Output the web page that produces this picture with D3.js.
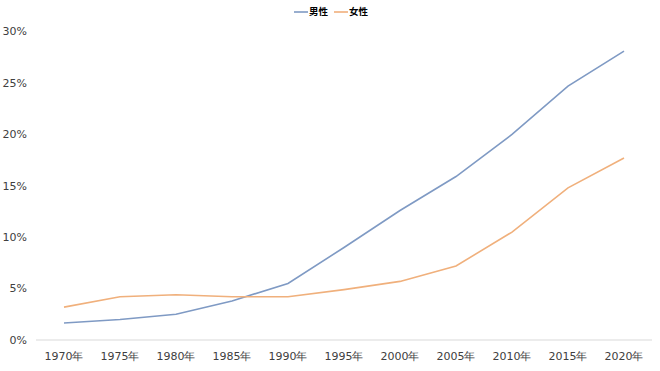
<!DOCTYPE html>
<html><head><meta charset="utf-8">
<script src="https://cdn.jsdelivr.net/npm/d3@7"></script>
<style>body{margin:0;background:#fff}svg{display:block}</style>
</head><body><svg id="c" width="660" height="371"></svg>
<script>
const years = ["1970年","1975年","1980年","1985年","1990年","1995年","2000年","2005年","2010年","2015年","2020年"];
const male = [1.65,2.0,2.5,3.8,5.5,9.0,12.6,15.9,20.0,24.7,28.1];
const female = [3.2,4.2,4.4,4.2,4.2,4.9,5.7,7.2,10.5,14.8,17.7];
const yTicks = [0,5,10,15,20,25,30];
const seriesNames = ["男性","女性"];
const colors = ["#7f9ac4","#f0b07c"];

const svg = d3.select("#c");
const font = "'DejaVu Sans', Verdana, sans-serif";
const x = d3.scaleBand().domain(years).range([36,652]);
const y = d3.scaleLinear().domain([0,30]).range([340,31.6]);

// baseline
svg.append("line").attr("x1",36).attr("x2",652).attr("y1",y(0)).attr("y2",y(0))
  .attr("stroke","#d9d9d9").attr("stroke-width",1);

// y labels
svg.append("g").selectAll("text").data(yTicks).join("text")
  .attr("x",27).attr("y",d=>y(d)).attr("dy","0.35em").attr("text-anchor","end")
  .attr("font-family",font).attr("font-size",11).attr("fill","#404040")
  .text(d=>d+"%");

// x labels
svg.append("g").selectAll("text").data(years).join("text")
  .attr("x",d=>x(d)+x.bandwidth()/2).attr("y",356).attr("dy","0.35em").attr("text-anchor","middle")
  .attr("font-family",font).attr("font-size",11).attr("fill","#404040")
  .text(d=>d);

const line = d3.line().x((d,i)=>x(years[i])+x.bandwidth()/2).y(d=>y(d));
[male,female].forEach((s,k)=>{
  svg.append("path").datum(s).attr("d",line).attr("fill","none")
    .attr("stroke",colors[k]).attr("stroke-width",1.6);
});

// legend
const lg = svg.append("g");
const lx = [294,334];
seriesNames.forEach((n,k)=>{
  lg.append("line").attr("x1",lx[k]).attr("x2",lx[k]+14).attr("y1",12).attr("y2",12)
    .attr("stroke",colors[k]).attr("stroke-width",1.6);
  lg.append("text").attr("x",lx[k]+15).attr("y",12).attr("dy","0.35em")
    .attr("font-family","'Noto Sans CJK JP', sans-serif").attr("font-weight","bold")
    .attr("font-size",9.5).attr("fill","#000").text(n);
});
</script></body></html>
